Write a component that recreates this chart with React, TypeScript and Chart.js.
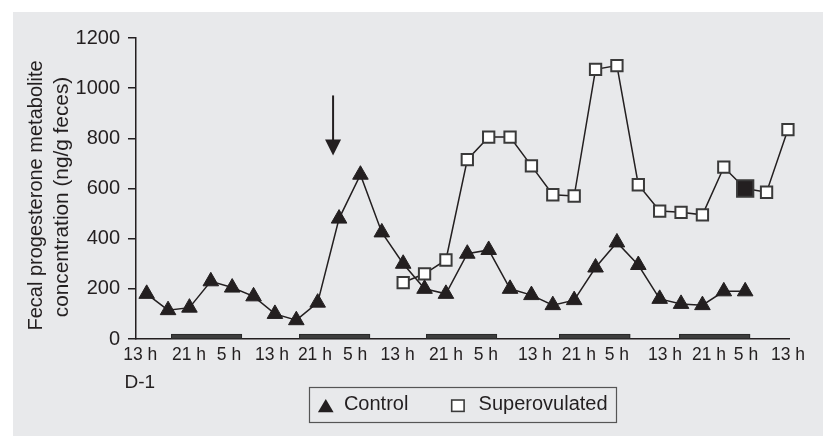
import React, { useEffect, useRef } from 'react';
import { Chart, registerables } from 'chart.js';

Chart.register(...registerables);

// ---- data ----
const sampleIndex = [0, 1, 2, 3, 4, 5, 6, 7, 8, 9, 10, 11, 12, 13, 14, 15, 16, 17, 18, 19, 20, 21, 22, 23, 24, 25, 26, 27, 28, 29, 30];
const controlValues = [180, 115, 125, 230, 205, 170, 100, 75, 145, 480, 655, 425, 300, 200, 180, 340, 355, 200, 175, 135, 155, 285, 385, 295, 160, 140, 135, 190, 190];
const superovulatedValues: (number | null)[] = [null, null, null, null, null, null, null, null, null, null, null, null, 225, 260, 315, 715, 805, 805, 690, 575, 570, 1075, 1090, 615, 510, 505, 495, 685, 600, 585, 835];
const highlightedIndex = 28;

const xTickPositions = [-0.3, 1.98, 3.85, 5.86, 7.87, 9.75, 11.74, 14.0, 15.87, 18.17, 20.22, 22.0, 24.25, 26.31, 28.04, 30.0];
const xTickLabels = ['13 h', '21 h', '5 h', '13 h', '21 h', '5 h', '13 h', '21 h', '5 h', '13 h', '21 h', '5 h', '13 h', '21 h', '5 h', '13 h'];
const dayLabel = 'D-1';

const yTickStep = 200;
const yMin = 0;
const yMax = 1200;

const nightStart = [1.14, 7.13, 13.07, 19.29, 24.91];
const nightEnd = [4.46, 10.45, 16.39, 22.62, 28.23];
const nightBarValue = 20;

const arrowX = 8.72;
const arrowTopValue = 971;
const arrowTipValue = 732;

const yTitleLines = ['Fecal progesterone metabolite', 'concentration (ng/g feces)'];
const seriesNames = ['Control', 'Superovulated'];

const FONT = "'Liberation Sans', Arial, Helvetica, sans-serif";
const INK = '#231f20';
const SQUARE_EDGE = '#3a3a3a';

function drawTriangle(ctx: CanvasRenderingContext2D, cx: number, cy: number, w: number, h: number) {
  ctx.beginPath();
  ctx.moveTo(cx, cy - h / 2);
  ctx.lineTo(cx + w / 2, cy + h / 2);
  ctx.lineTo(cx - w / 2, cy + h / 2);
  ctx.closePath();
  ctx.fill();
}

const decorPlugin = {
  id: 'decor',
  beforeDatasetsDraw(chart: any) {
    const { ctx, scales } = chart;
    const x = scales.x;
    const y = scales.y;
    ctx.save();
    // night bars
    ctx.fillStyle = '#3d3d3d';
    ctx.strokeStyle = '#2a2a2a';
    ctx.lineWidth = 1;
    const yTop = y.getPixelForValue(nightBarValue);
    const yBot = y.getPixelForValue(0);
    nightStart.forEach((s, i) => {
      const x0 = x.getPixelForValue(s);
      const x1 = x.getPixelForValue(nightEnd[i]);
      ctx.fillRect(x0, yTop, x1 - x0, yBot - yTop);
      ctx.strokeRect(x0 + 0.5, yTop + 0.5, x1 - x0 - 1, yBot - yTop - 1);
    });
    // arrow
    const ax = x.getPixelForValue(arrowX);
    const aTop = y.getPixelForValue(arrowTopValue);
    const aTip = y.getPixelForValue(arrowTipValue);
    const headH = 16;
    const headW = 16;
    ctx.strokeStyle = INK;
    ctx.lineWidth = 2;
    ctx.beginPath();
    ctx.moveTo(ax, aTop);
    ctx.lineTo(ax, aTip - headH + 2);
    ctx.stroke();
    ctx.fillStyle = INK;
    ctx.beginPath();
    ctx.moveTo(ax - headW / 2, aTip - headH);
    ctx.lineTo(ax + headW / 2, aTip - headH);
    ctx.lineTo(ax, aTip);
    ctx.closePath();
    ctx.fill();
    ctx.restore();
  },
  afterDraw(chart: any) {
    const { ctx, chartArea, scales } = chart;
    ctx.save();
    // y axis title
    ctx.fillStyle = INK;
    ctx.textAlign = 'center';
    ctx.textBaseline = 'alphabetic';
    const midY = (chartArea.top + chartArea.bottom) / 2;
    const lines = [
      { text: yTitleLines[0], bx: 28.7, cy: midY + 7, size: 20 },
      { text: yTitleLines[1], bx: 55.3, cy: midY + 8.5, size: 20.8 },
    ];
    lines.forEach((l) => {
      ctx.save();
      ctx.font = `${l.size}px ${FONT}`;
      ctx.translate(l.bx, l.cy);
      ctx.rotate(-Math.PI / 2);
      ctx.fillText(l.text, 0, 0);
      ctx.restore();
    });

    // day label under the first time tick
    ctx.font = `19px ${FONT}`;
    ctx.textAlign = 'center';
    ctx.textBaseline = 'middle';
    ctx.fillText(dayLabel, scales.x.getPixelForValue(xTickPositions[0]) - 0.5, chartArea.bottom + 43.5);

    // legend (drawn below the x axis, centred on the plot area)
    ctx.font = `20px ${FONT}`;
    const w1 = ctx.measureText(seriesNames[0]).width;
    const w2 = ctx.measureText(seriesNames[1]).width;
    const padL = 9, triW = 15.7, triH = 13.3, gap1 = 10.3, gapItems = 42.5, sqW = 14, sqH = 13, gap2 = 13.7, padR = 8.5;
    const total = padL + triW + gap1 + w1 + gapItems + sqW + gap2 + w2 + padR;
    const cx = (chartArea.left + chartArea.right) / 2;
    const boxLeft = cx - total / 2;
    const boxTop = chartArea.bottom + 47.7;
    const boxH = 35;
    const cyText = boxTop + 17.8;
    const cyMark = cyText + 1.2;
    ctx.strokeStyle = '#555555';
    ctx.lineWidth = 1.2;
    ctx.strokeRect(Math.round(boxLeft) + 0.5, Math.round(boxTop) + 0.5, Math.round(total), boxH);

    let px = boxLeft + padL;
    ctx.fillStyle = INK;
    drawTriangle(ctx, px + triW / 2, cyMark, triW, triH);
    px += triW + gap1;
    ctx.textAlign = 'left';
    ctx.textBaseline = 'middle';
    ctx.fillStyle = INK;
    ctx.fillText(seriesNames[0], px, cyText);
    px += w1 + gapItems;
    ctx.fillStyle = '#ffffff';
    ctx.fillRect(px, cyMark - sqH / 2, sqW, sqH);
    ctx.strokeStyle = SQUARE_EDGE;
    ctx.lineWidth = 1.6;
    ctx.strokeRect(px + 0.8, cyMark - sqH / 2 + 0.8, sqW - 1.6, sqH - 1.6);
    px += sqW + gap2;
    ctx.fillStyle = INK;
    ctx.fillText(seriesNames[1], px, cyText);
    ctx.restore();
  },
};

export default function App() {
  const canvasRef = useRef<HTMLCanvasElement | null>(null);

  useEffect(() => {
    if (!canvasRef.current) return;
    const controlData = controlValues.map((v, i) => ({ x: sampleIndex[i], y: v }));
    const superData: { x: number; y: number }[] = [];
    const superRadius: number[] = [];
    const superFill: string[] = [];
    superovulatedValues.forEach((v, i) => {
      if (v === null) return;
      superData.push({ x: sampleIndex[i], y: v });
      superRadius.push(i === highlightedIndex ? 11.5 : 8);
      superFill.push(i === highlightedIndex ? INK : '#ffffff');
    });

    const chart = new Chart(canvasRef.current, {
      type: 'line',
      data: {
        datasets: [
          {
            label: seriesNames[0],
            data: controlData,
            borderColor: INK,
            borderWidth: 1.5,
            pointStyle: 'triangle',
            pointRadius: 9,
            pointBackgroundColor: INK,
            pointBorderColor: INK,
            pointBorderWidth: 1,
            tension: 0,
            clip: false,
          },
          {
            label: seriesNames[1],
            data: superData,
            borderColor: INK,
            borderWidth: 1.5,
            pointStyle: 'rect',
            pointRadius: superRadius,
            pointBackgroundColor: superFill,
            pointBorderColor: SQUARE_EDGE,
            pointBorderWidth: 2,
            tension: 0,
            clip: false,
          },
        ],
      },
      options: {
        responsive: false,
        animation: false,
        layout: { padding: { top: 26, left: 0, right: 34, bottom: 37 } },
        font: { family: FONT },
        scales: {
          x: {
            type: 'linear',
            min: -0.5,
            max: 30.05,
            grid: { display: false, drawTicks: false },
            border: { display: true, color: INK, width: 1.5 },
            afterBuildTicks: (axis: any) => {
              axis.ticks = xTickPositions.map((v) => ({ value: v }));
            },
            afterFit: (scale: any) => {
              scale.height = 60;
            },
            ticks: {
              autoSkip: false,
              maxRotation: 0,
              minRotation: 0,
              padding: 3.5,
              color: INK,
              font: { family: FONT, size: 17.5, lineHeight: 1.5 },
              callback: (_v: any, index: number) => xTickLabels[index],
            },
          },
          y: {
            type: 'linear',
            min: yMin,
            max: yMax,
            grid: { display: true, drawOnChartArea: false, drawTicks: true, tickLength: 8, color: INK, lineWidth: 1.5 },
            border: { display: true, color: INK, width: 1.5 },
            afterFit: (scale: any) => {
              scale.width = 123;
            },
            ticks: {
              stepSize: yTickStep,
              padding: 8,
              color: INK,
              font: { family: FONT, size: 20 },
              callback: (v: any) => String(v),
            },
          },
        },
        plugins: {
          legend: { display: false },
          tooltip: { enabled: false },
          title: { display: false },
        },
      } as any,
      plugins: [decorPlugin],
    });
    return () => chart.destroy();
  }, []);

  return (
    <div
      style={{
        position: 'absolute',
        left: 13,
        top: 12,
        width: 810,
        height: 424,
        background: '#e8e9eb',
      }}
    >
      <canvas ref={canvasRef} width={810} height={424} style={{ display: 'block' }} />
    </div>
  );
}
